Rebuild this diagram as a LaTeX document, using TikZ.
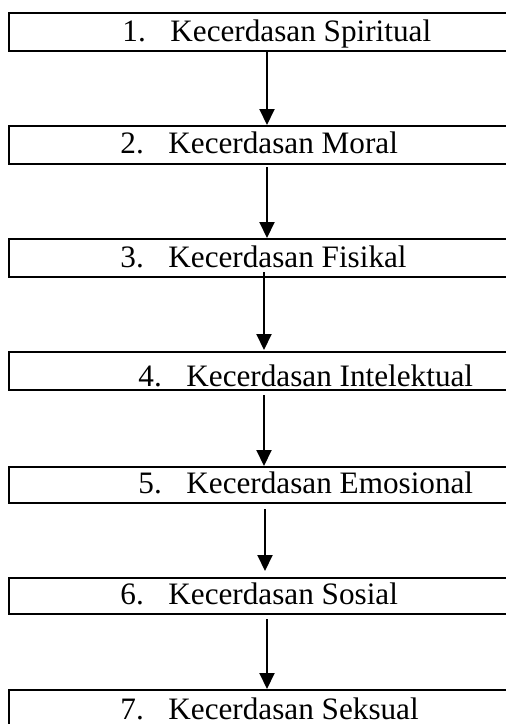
\documentclass[tikz,border=0pt]{standalone}
\usepackage{fontspec}
\setmainfont{Liberation Serif}
\usetikzlibrary{arrows.meta}
\tikzset{
  kotak/.style={draw, line width=1pt, minimum width=253pt, minimum height=19pt, anchor=north west, inner sep=0pt},
  teks/.style={anchor=base west, inner sep=0pt, font=\fontsize{15.6}{18}\selectfont},
  panah/.style={-{Triangle[width=7.5pt,length=8pt]}, line width=1pt}
}
\newcommand{\nomor}[1]{\makebox[24pt][l]{#1}}
\begin{document}
\begin{tikzpicture}[x=0.5pt,y=-0.5pt]
    \useasboundingbox (0,0) rectangle (506,724);
    \clip (0,0) rectangle (506,724);
    % kotak
    \node[kotak] (b1) at (8,12) {};
    \node[kotak] (b2) at (8,125) {};
    \node[kotak] (b3) at (8,238) {};
    \node[kotak] (b4) at (8,351) {};
    \node[kotak, minimum height=18pt] (b5) at (8,466) {};
    \node[kotak, minimum height=18pt] (b6) at (8,577) {};
    \node[kotak] (b7) at (8,689) {};
    % teks
    \node[teks] (t1) at (122,41) {\nomor{1.}Kecerdasan Spiritual};
    \node[teks] (t2) at (120,153) {\nomor{2.}Kecerdasan Moral};
    \node[teks] (t3) at (120,267) {\nomor{3.}Kecerdasan Fisikal};
    \node[teks] (t4) at (138,386) {\nomor{4.}Kecerdasan Intelektual};
    \node[teks] (t5) at (138,493) {\nomor{5.}Kecerdasan Emosional};
    \node[teks] (t6) at (120,604) {\nomor{6.}Kecerdasan Sosial};
    \node[teks] (t7) at (120,719) {\nomor{7.}Kecerdasan Seksual};
    % panah
    \draw[panah] ([xshift=2.5pt]b1.south) -- ([xshift=2.5pt]b2.north);
    \draw[panah] ([xshift=2.5pt,yshift=-1pt]b2.south) -- ([xshift=2.5pt]b3.north);
    \draw[panah] ([xshift=1pt,yshift=3pt]b3.south) -- ([xshift=1pt,yshift=0.5pt]b4.north);
    \draw[panah] ([xshift=1pt,yshift=-2pt]b4.south) -- ([xshift=1pt]b5.north);
    \draw[panah] ([xshift=1.5pt,yshift=-2.5pt]b5.south) -- ([xshift=1.5pt,yshift=3pt]b6.north);
    \draw[panah] ([xshift=2.5pt,yshift=-2pt]b6.south) -- ([xshift=2.5pt]b7.north);
\end{tikzpicture}
\end{document}
